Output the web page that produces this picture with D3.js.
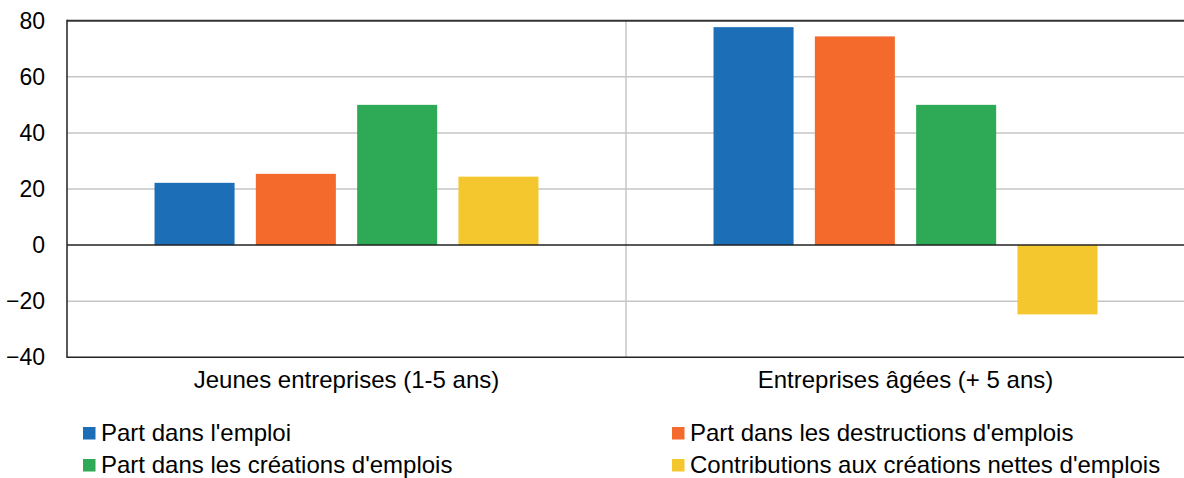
<!DOCTYPE html>
<html><head><meta charset="utf-8">
<script src="https://cdn.jsdelivr.net/npm/d3@7"></script>
<style>body{margin:0;background:#fff}svg{display:block}text{font-family:"Liberation Sans",Arial,sans-serif;fill:#000}</style>
</head><body><svg id="c" width="1184" height="478"></svg>
<script>
const categories = ["Jeunes entreprises (1-5 ans)", "Entreprises âgées (+ 5 ans)"];
const seriesNames = ["Part dans l'emploi", "Part dans les destructions d'emplois", "Part dans les créations d'emplois", "Contributions aux créations nettes d'emplois"];
const seriesColors = ["#1c6eb6", "#f36a2c", "#2eaa57", "#f5c72e"];
const emploi = [22.2, 77.7];
const destructions = [25.4, 74.4];
const creations = [50, 50];
const contributions = [24.4, -24.7];
const yTicks = [-40, -20, 0, 20, 40, 60, 80];

const values = [emploi, destructions, creations, contributions];
const svg = d3.select("#c");
const L = 67, R = 1185, T = 20.7, B = 357.3;
const x0 = d3.scaleBand().domain(categories).range([L, R]);
const x1 = d3.scaleBand().domain(d3.range(4)).range([0, x0.bandwidth()]).paddingInner(0.21).paddingOuter(0.864);
const y = d3.scaleLinear().domain([-40, 80]).range([B, T]);

// gridlines
svg.append("g").selectAll("line").data(yTicks.filter(t => t !== 0 && t !== 80 && t !== -40)).join("line")
  .attr("x1", L).attr("x2", R).attr("y1", d => y(d)).attr("y2", d => y(d))
  .attr("stroke", "#c6c6c6").attr("stroke-width", 1.5);
// category separator
svg.append("line").attr("x1", x0(categories[1])).attr("x2", x0(categories[1]))
  .attr("y1", T).attr("y2", B).attr("stroke", "#c6c6c6").attr("stroke-width", 1.5);

// bars
categories.forEach((c, ci) => {
  values.forEach((arr, si) => {
    const v = arr[ci];
    svg.append("rect")
      .attr("x", x0(c) + x1(si)).attr("width", x1.bandwidth())
      .attr("y", y(Math.max(0, v))).attr("height", Math.abs(y(v) - y(0)))
      .attr("fill", seriesColors[si]);
  });
});

// frame lines
svg.append("line").attr("x1", L).attr("x2", R).attr("y1", y(0)).attr("y2", y(0)).attr("stroke", "#222").attr("stroke-width", 1.5);
svg.append("line").attr("x1", L).attr("x2", R).attr("y1", T).attr("y2", T).attr("stroke", "#333").attr("stroke-width", 2);
svg.append("line").attr("x1", L).attr("x2", R).attr("y1", B).attr("y2", B).attr("stroke", "#222").attr("stroke-width", 1.5);
svg.append("line").attr("x1", L).attr("x2", L).attr("y1", T - 1).attr("y2", B + 0.75).attr("stroke", "#222").attr("stroke-width", 1.5);

// y axis labels
const yAxis = d3.axisLeft(y).tickValues(yTicks).tickSize(0).tickPadding(22);
const ga = svg.append("g").attr("transform", `translate(${L},0)`).call(yAxis);
ga.select(".domain").remove();
ga.selectAll("text").style("font-size", "23px").style("font-family", '"Liberation Sans",Arial,sans-serif').attr("fill", "#000");

// x labels
const xAxis = d3.axisBottom(x0).tickSize(0).tickPadding(14);
const gx = svg.append("g").attr("transform", `translate(0,${B})`).call(xAxis);
gx.select(".domain").remove();
gx.selectAll("text").style("font-size", "24px").style("font-family", '"Liberation Sans",Arial,sans-serif').attr("fill", "#000");

// legend
const legPos = [[83, 427], [672, 427], [83, 459], [672, 459]];
seriesNames.forEach((n, i) => {
  const [lx, ly] = legPos[i];
  svg.append("rect").attr("x", lx).attr("y", ly).attr("width", 12.5).attr("height", 12.5).attr("fill", seriesColors[i]);
  svg.append("text").attr("x", lx + 18).attr("y", ly + 14).style("font-size", "24px").text(n);
});
</script></body></html>
